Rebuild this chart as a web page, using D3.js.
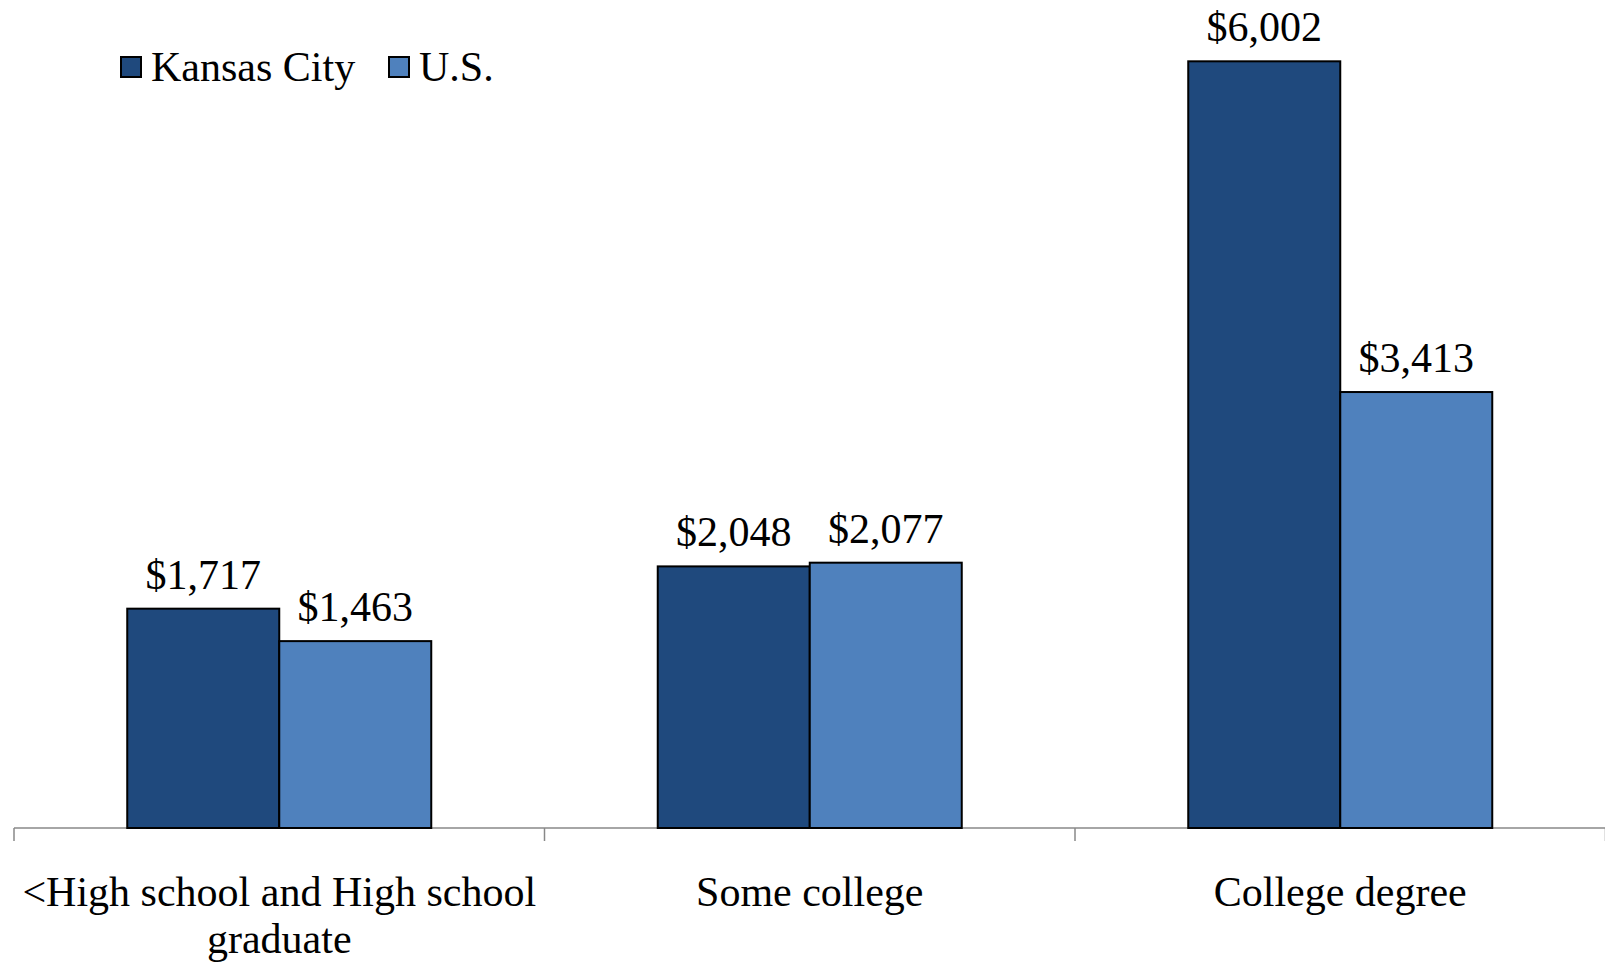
<!DOCTYPE html>
<html><head><meta charset="utf-8">
<script src="https://cdn.jsdelivr.net/npm/d3@7/dist/d3.min.js"></script>
<style>body{margin:0;background:#fff}svg{display:block}</style>
</head><body>
<svg id="chart" width="1605" height="963"></svg>
<script>
const categories = [["<High school and High school", "graduate"], ["Some college"], ["College degree"]];
const seriesNames = ["Kansas City", "U.S."];
const kansasCity = [1717, 2048, 6002];
const us = [1463, 2077, 3413];
const colors = ["#1F497D", "#4F81BD"];

const svg = d3.select("#chart");
const font = "'Liberation Serif','Times New Roman',serif";
const fs = 42;
const baseY = 828, left = 14, bandW = 530.5;
const x0 = d3.scaleBand().domain(d3.range(categories.length)).range([left, left + bandW * 3]).paddingInner(0).paddingOuter(0);
const x1 = d3.scaleBand().domain([0, 1]).range([0, bandW]).paddingOuter(0.745).paddingInner(0);
const y = d3.scaleLinear().domain([0, 6482]).range([baseY, 0]);

const data = categories.map((c, i) => ({i, vals: [kansasCity[i], us[i]]}));

// axis
svg.append("line").attr("x1", left).attr("x2", 1605).attr("y1", baseY).attr("y2", baseY)
  .attr("stroke", "#888").attr("stroke-width", 1.5);
d3.range(categories.length + 1).forEach(k => {
  const xx = left + k * bandW;
  svg.append("line").attr("x1", xx).attr("x2", xx).attr("y1", baseY).attr("y2", baseY + 13)
    .attr("stroke", "#888").attr("stroke-width", 1.5);
});

const g = svg.selectAll("g.grp").data(data).join("g").attr("transform", d => `translate(${x0(d.i)},0)`);
g.selectAll("rect").data(d => d.vals).join("rect")
  .attr("x", (v, j) => x1(j)).attr("width", x1.bandwidth())
  .attr("y", v => y(v)).attr("height", v => baseY - y(v))
  .attr("fill", (v, j) => colors[j]).attr("stroke", "#000").attr("stroke-width", 2);
g.selectAll("text.val").data(d => d.vals).join("text").attr("class", "val")
  .attr("x", (v, j) => x1(j) + x1.bandwidth() / 2).attr("y", v => y(v) - 20)
  .attr("text-anchor", "middle").attr("font-family", font).attr("font-size", fs)
  .text(v => "$" + d3.format(",")(v));

// category labels
categories.forEach((lines, i) => {
  const t = svg.append("text").attr("x", x0(i) + bandW / 2).attr("y", 906)
    .attr("text-anchor", "middle").attr("font-family", font).attr("font-size", fs);
  lines.forEach((ln, k) => t.append("tspan").attr("x", x0(i) + bandW / 2).attr("dy", k ? 47 : 0).text(ln));
});

// legend
const legX = [121, 389];
seriesNames.forEach((n, j) => {
  svg.append("rect").attr("x", legX[j]).attr("y", 57).attr("width", 20).attr("height", 20)
    .attr("fill", colors[j]).attr("stroke", "#000").attr("stroke-width", 2);
  svg.append("text").attr("x", legX[j] + 30).attr("y", 81).attr("font-family", font).attr("font-size", fs).text(n);
});
</script>
</body></html>
